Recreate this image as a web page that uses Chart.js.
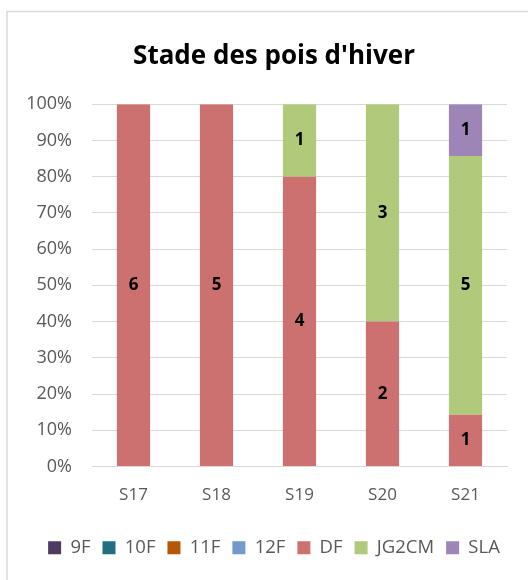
<!DOCTYPE html>
<html>
<head>
<meta charset="utf-8">
<script src="https://cdn.jsdelivr.net/npm/chart.js@4.4.1/dist/chart.umd.min.js"></script>
<style>
html,body{margin:0;padding:0;background:#fff;}
#wrap{position:relative;width:528px;height:580px;}
canvas{display:block;}
</style>
</head>
<body>
<div id="wrap"><canvas id="c" width="528" height="580"></canvas></div>
<script>
const categories = ["S17", "S18", "S19", "S20", "S21"];
const seriesNames = ["9F", "10F", "11F", "12F", "DF", "JG2CM", "SLA"];
const s9F    = [0, 0, 0, 0, 0];
const s10F   = [0, 0, 0, 0, 0];
const s11F   = [0, 0, 0, 0, 0];
const s12F   = [0, 0, 0, 0, 0];
const sDF    = [6, 5, 4, 2, 1];
const sJG2CM = [0, 0, 1, 3, 5];
const sSLA   = [0, 0, 0, 0, 1];
const yTicks = [0, 10, 20, 30, 40, 50, 60, 70, 80, 90, 100];
const seriesColors = ["#4f3b62", "#236e7e", "#b65708", "#729aca", "#cd7170", "#b0c97b", "#9d85b8"];

const counts = [s9F, s10F, s11F, s12F, sDF, sJG2CM, sSLA];
const totals = categories.map((_, j) => counts.reduce((a, s) => a + s[j], 0));
const FONT = "'Open Sans', 'Liberation Sans', sans-serif";

const datasets = counts.map((s, i) => ({
  label: seriesNames[i],
  data: s.map((v, j) => totals[j] ? v / totals[j] * 100 : 0),
  backgroundColor: seriesColors[i],
  borderWidth: 0,
  barPercentage: 0.4,
  categoryPercentage: 1.0,
  stack: "s"
}));

const labelPlugin = {
  id: "valueLabels",
  afterDatasetsDraw(chart) {
    const ctx = chart.ctx;
    ctx.save();
    ctx.font = "bold 17px " + FONT;
    ctx.fillStyle = "#000";
    ctx.textAlign = "center";
    ctx.textBaseline = "middle";
    counts.forEach((s, i) => {
      const meta = chart.getDatasetMeta(i);
      meta.data.forEach((bar, j) => {
        const v = s[j];
        if (!v) return;
        const p = bar.getProps(["x", "y", "base"], true);
        ctx.fillText(String(v), p.x, (p.y + p.base) / 2);
      });
    });
    ctx.restore();
  }
};

const framePlugin = {
  id: "frame",
  beforeDraw(chart) {
    const ctx = chart.ctx;
    ctx.save();
    ctx.fillStyle = "#fff";
    ctx.fillRect(0, 0, chart.width, chart.height);
    ctx.strokeStyle = "#d9d9d9";
    ctx.lineWidth = 1.5;
    ctx.strokeRect(7, 11.5, 700, 700);
    ctx.restore();
  }
};

new Chart(document.getElementById("c"), {
  type: "bar",
  data: { labels: categories, datasets },
  options: {
    responsive: false,
    animation: false,
    layout: { padding: { left: 20, right: 0, top: 0, bottom: 13 } },
    plugins: {
      title: {
        display: true,
        text: "Stade des pois d'hiver",
        color: "#000",
        font: { family: FONT, size: 26, weight: "bold", lineHeight: 1.2 },
        padding: { top: 41, bottom: 32 }
      },
      legend: {
        display: true,
        position: "bottom",
        labels: {
          color: "#595959",
          font: { family: FONT, size: 18.5 },
          boxWidth: 13,
          boxHeight: 13,
          padding: 12
        }
      },
      tooltip: { enabled: false }
    },
    scales: {
      x: {
        stacked: true,
        grid: { display: false },
        border: { display: true, color: "#d9d9d9", width: 1 },
        ticks: { color: "#595959", font: { family: FONT, size: 17 }, padding: 10 },
        afterFit(scale) { scale.height = 60; }
      },
      y: {
        stacked: true,
        min: 0,
        max: 100,
        afterBuildTicks(scale) { scale.ticks = yTicks.map(v => ({ value: v })); },
        grid: { color: "#d9d9d9", lineWidth: 1, drawTicks: false },
        border: { display: false },
        ticks: {
          color: "#595959",
          font: { family: FONT, size: 18 },
          padding: 20,
          callback: v => v + "%"
        },
        afterFit(scale) { scale.width = 72; }
      },
      yRight: {
        position: "right",
        display: true,
        grid: { display: false, drawTicks: false },
        border: { display: false },
        ticks: { display: false },
        afterFit(scale) { scale.width = 21; }
      }
    }
  },
  plugins: [framePlugin, labelPlugin]
});
</script>
</body>
</html>
